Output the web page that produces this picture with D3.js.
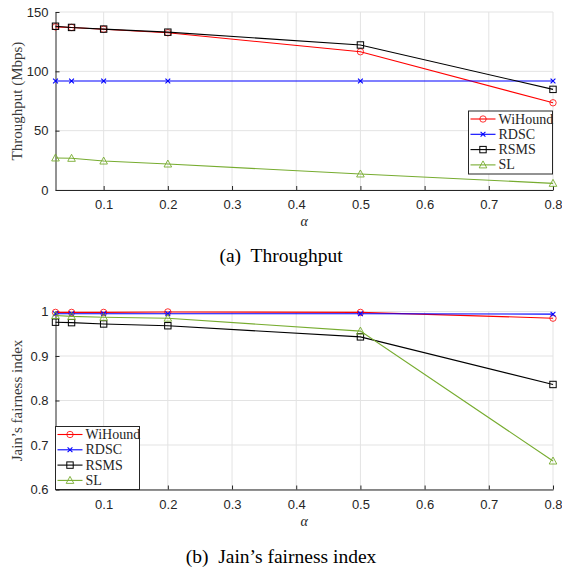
<!DOCTYPE html>
<html>
<head>
<meta charset="utf-8">
<script src="https://cdn.jsdelivr.net/npm/d3@7"></script>
<style>
  body { margin: 0; background: #fff; }
  svg { display: block; }
</style>
</head>
<body>
<div id="chart"></div>
<script>
// x values (alpha) shared by both panels
var alpha = [0.025, 0.05, 0.1, 0.2, 0.5, 0.8];
var xTicks = [0.1, 0.2, 0.3, 0.4, 0.5, 0.6, 0.7, 0.8];

var seriesNames = ["WiHound", "RDSC", "RSMS", "SL"];

// (a) throughput, Mbps
var thrWiHound = [137.5, 137, 135.5, 132.5, 116.5, 73.5];
var thrRDSC    = [91.8, 91.8, 91.8, 91.8, 91.8, 91.8];
var thrRSMS    = [138, 137, 135.6, 133, 122.2, 84.8];
var thrSL      = [27, 26.7, 24.4, 21.9, 13.5, 5.6];
var thrTicks   = [0, 50, 100, 150];

// (b) Jain's fairness index
var jainWiHound = [0.998, 0.998, 0.998, 0.999, 0.998, 0.985];
var jainRDSC    = [0.995, 0.995, 0.995, 0.995, 0.995, 0.994];
var jainRSMS    = [0.976, 0.975, 0.972, 0.968, 0.943, 0.836];
var jainSL      = [0.991, 0.989, 0.987, 0.985, 0.956, 0.664];
var jainTicks   = [0.6, 0.7, 0.8, 0.9, 1];

var colors  = {WiHound: "#ff0000", RDSC: "#0000ff", RSMS: "#000000", SL: "#77ac30"};
var markers = {WiHound: "circle", RDSC: "cross", RSMS: "square", SL: "triangle"};

var W = 562, H = 568;
var axisColor = "#262626";
var gridColor = "#e3e3e3";
var serif = "'Liberation Serif', 'Times New Roman', serif";
var sans  = "'Liberation Sans', Arial, Helvetica, sans-serif";

var svg = d3.select("#chart").append("svg")
    .attr("width", W)
    .attr("height", H);

// draws a marker of the given kind centred on (0,0) inside g
var drawMarker = function(g, kind, color) {
    if (kind === "circle") {
	g.append("circle").attr("r", 3.2)
	    .attr("fill", "none").attr("stroke", color).attr("stroke-width", 0.8);
    } else if (kind === "square") {
	g.append("rect").attr("x", -3.2).attr("y", -3.2)
	    .attr("width", 6.4).attr("height", 6.4)
	    .attr("fill", "none").attr("stroke", color).attr("stroke-width", 1);
    } else if (kind === "triangle") {
	g.append("path").attr("d", "M0,-4L3.8,3L-3.8,3Z")
	    .attr("fill", "none").attr("stroke", color).attr("stroke-width", 0.9);
    } else {
	g.append("path").attr("d", "M-2.4,-2.4L2.4,2.4M-2.4,2.4L2.4,-2.4")
	    .attr("stroke", color).attr("stroke-width", 1.1);
    }
};

var drawPanel = function(p) {
    var x = d3.scaleLinear().domain([0.025, 0.8]).range([p.left, p.right]);
    var y = d3.scaleLinear().domain(p.yDomain).range([p.bottom, p.top]);

    var g = svg.append("g");

    // grid
    g.append("g").selectAll("line.gx")
	.data(xTicks).enter().append("line")
	.attr("x1", function(d) { return x(d); })
	.attr("x2", function(d) { return x(d); })
	.attr("y1", p.top).attr("y2", p.bottom)
	.attr("stroke", gridColor).attr("stroke-width", 1);
    g.append("g").selectAll("line.gy")
	.data(p.yTicks).enter().append("line")
	.attr("x1", p.left).attr("x2", p.right)
	.attr("y1", function(d) { return y(d); })
	.attr("y2", function(d) { return y(d); })
	.attr("stroke", gridColor).attr("stroke-width", 1);

    // axes, ticks pointing inwards
    var xAxis = g.append("g")
	.attr("transform", "translate(0," + p.bottom + ")")
	.call(d3.axisBottom(x).tickValues(xTicks).tickSizeInner(-4).tickSizeOuter(0)
	      .tickPadding(10).tickFormat(d3.format("")));
    var yAxis = g.append("g")
	.attr("transform", "translate(" + p.left + ",0)")
	.call(d3.axisLeft(y).tickValues(p.yTicks).tickSizeInner(-4).tickSizeOuter(0)
	      .tickPadding(7).tickFormat(d3.format("")));
    [xAxis, yAxis].forEach(function(a) {
	a.select(".domain").attr("stroke", axisColor).attr("stroke-width", 1);
	a.selectAll(".tick line").attr("stroke", axisColor);
	a.selectAll(".tick text")
	    .attr("fill", axisColor)
	    .style("font-family", sans)
	    .style("font-size", "13px");
    });

    // series
    var line = d3.line()
	.x(function(d) { return x(d[0]); })
	.y(function(d) { return y(d[1]); });

    seriesNames.forEach(function(name, i) {
	var pts = alpha.map(function(a, j) { return [a, p.values[i][j]]; });
	g.append("path")
	    .datum(pts)
	    .attr("d", line)
	    .attr("fill", "none")
	    .attr("stroke", colors[name])
	    .attr("stroke-width", 1.1);
	pts.forEach(function(d) {
	    var m = g.append("g")
		.attr("transform", "translate(" + x(d[0]) + "," + y(d[1]) + ")");
	    drawMarker(m, markers[name], colors[name]);
	});
    });

    // axis labels
    g.append("text")
	.attr("x", (p.left + p.right) / 2)
	.attr("y", p.bottom + 36)
	.attr("text-anchor", "middle")
	.style("font-family", serif)
	.style("font-style", "italic")
	.style("font-size", "14px")
	.attr("fill", axisColor)
	.text("\u03b1");
    g.append("text")
	.attr("transform", "translate(" + 22 + "," + ((p.top + p.bottom) / 2) + ") rotate(-90)")
	.attr("text-anchor", "middle")
	.style("font-family", serif)
	.style("font-size", "15px")
	.attr("fill", "#3a3a3a")
	.text(p.yLabel);

    // legend
    var lg = g.append("g").attr("transform", "translate(" + p.legend[0] + "," + p.legend[1] + ")");
    lg.append("rect")
	.attr("width", p.legend[2]).attr("height", p.legend[3])
	.attr("fill", "#fff").attr("stroke", axisColor).attr("stroke-width", 1);
    seriesNames.forEach(function(name, i) {
	var ly = 8 + i * 15.3;
	lg.append("line")
	    .attr("x1", 2).attr("x2", 27)
	    .attr("y1", ly).attr("y2", ly)
	    .attr("stroke", colors[name]).attr("stroke-width", 1.1);
	drawMarker(lg.append("g").attr("transform", "translate(14.5," + ly + ")"), markers[name], colors[name]);
	lg.append("text")
	    .attr("x", 30).attr("y", ly + 4.5)
	    .style("font-family", serif)
	    .style("font-size", "14px")
	    .attr("fill", axisColor)
	    .text(name);
    });

    // caption
    svg.append("text")
	.attr("x", 281)
	.attr("y", p.captionY)
	.attr("text-anchor", "middle")
	.style("font-family", serif)
	.style("font-size", "19.5px")
	.attr("fill", "#000")
	.attr("xml:space", "preserve")
	.style("white-space", "pre")
	.text(p.caption);
};

drawPanel({
    left: 55.5, right: 553, top: 12, bottom: 190,
    yDomain: [0, 150], yTicks: thrTicks,
    values: [thrWiHound, thrRDSC, thrRSMS, thrSL],
    yLabel: "Throughput (Mbps)",
    legend: [468.5, 111, 84, 63],
    caption: "(a)  Throughput",
    captionY: 262
});

drawPanel({
    left: 55.5, right: 553, top: 311.5, bottom: 489.5,
    yDomain: [0.6, 1], yTicks: jainTicks,
    values: [jainWiHound, jainRDSC, jainRSMS, jainSL],
    yLabel: "Jain\u2019s fairness index",
    legend: [55.5, 426.5, 84, 63],
    caption: "(b)  Jain\u2019s fairness index",
    captionY: 563
});
</script>
</body>
</html>
